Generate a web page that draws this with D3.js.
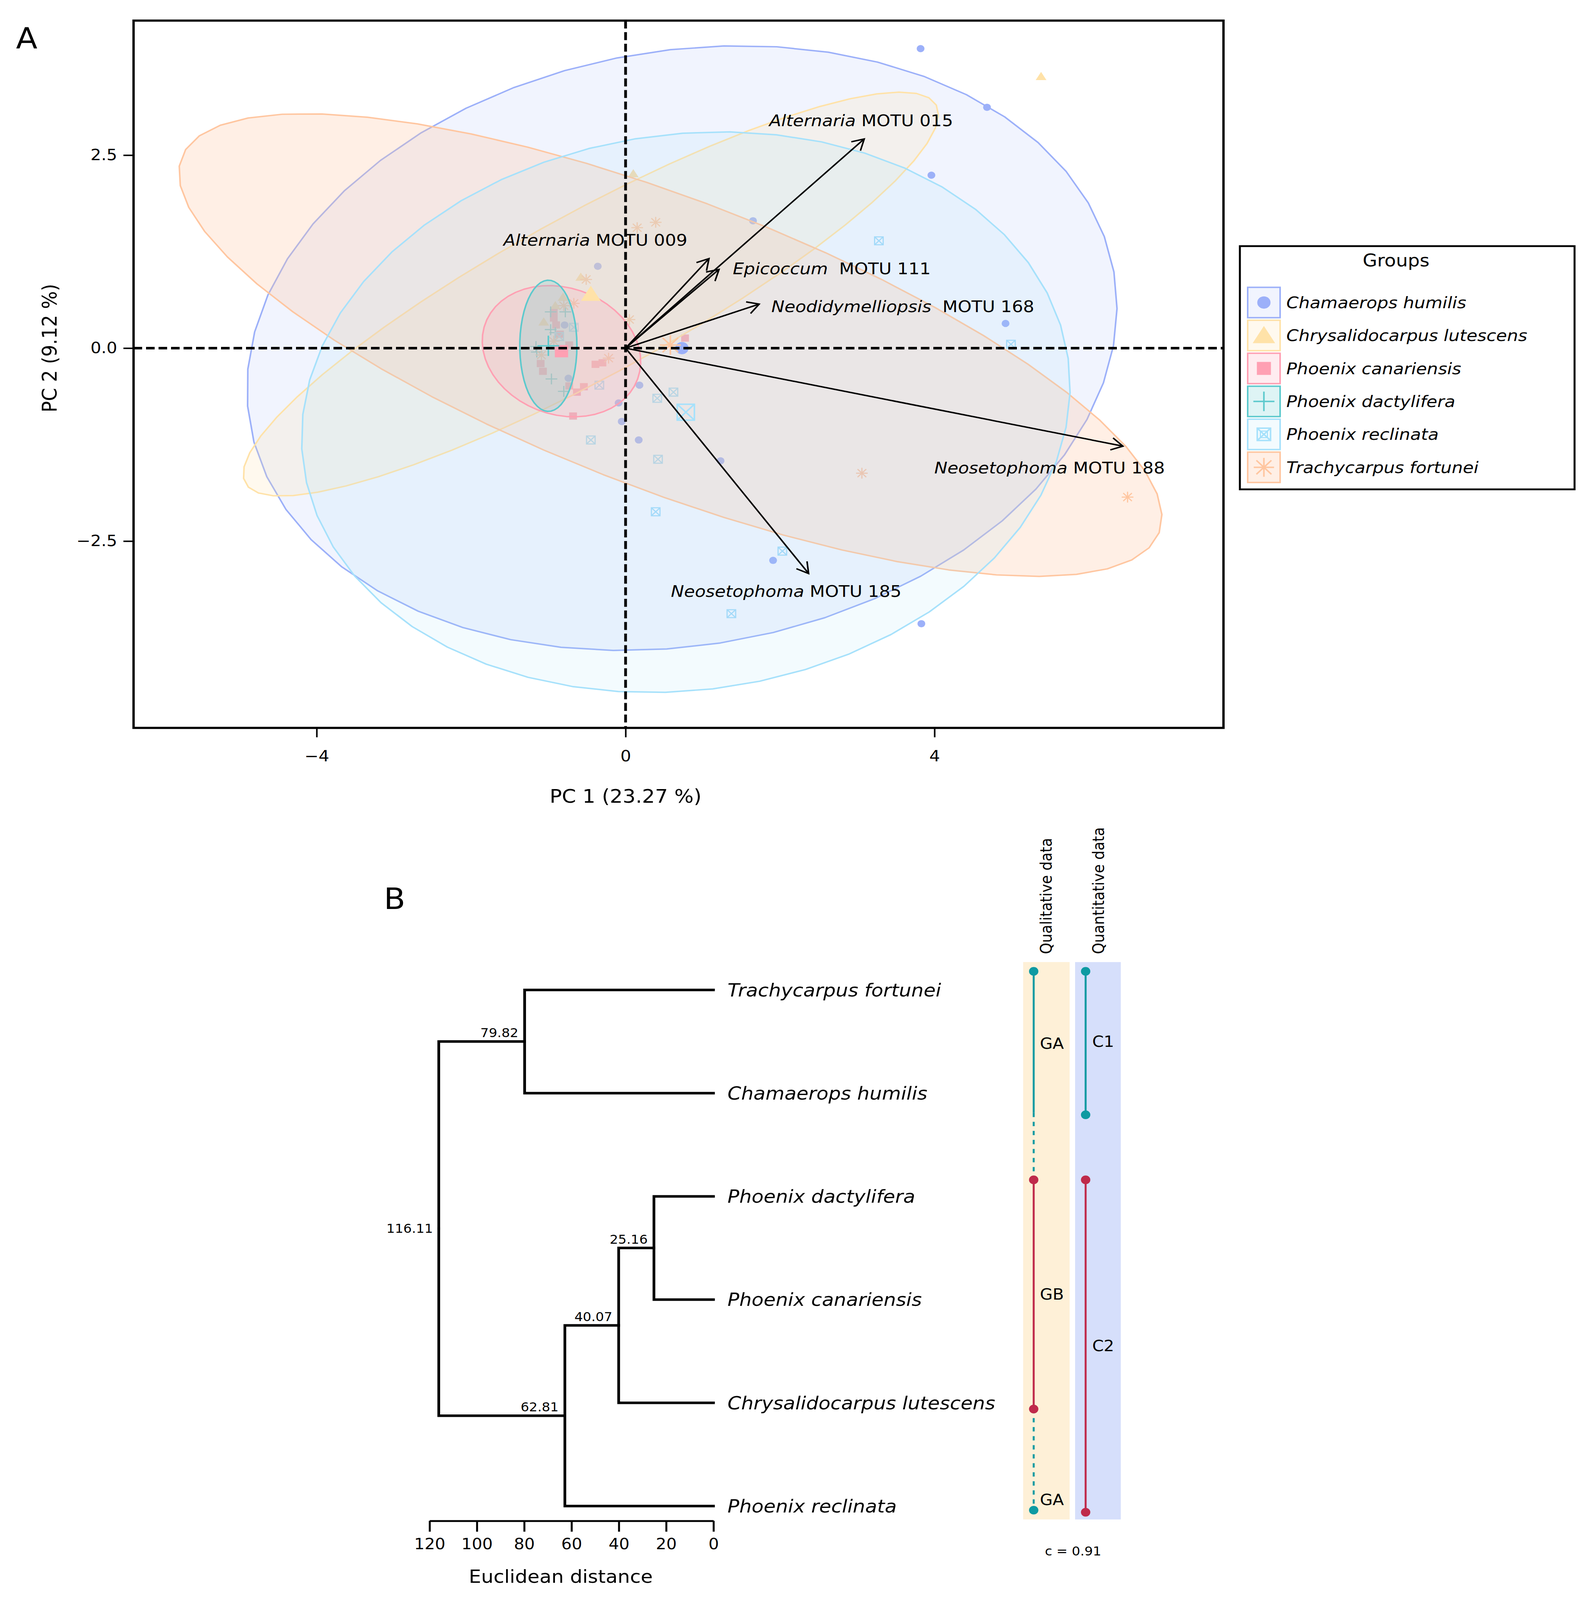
<!DOCTYPE html>
<html>
<head>
<meta charset="utf-8">
<script src="https://d3js.org/d3.v7.min.js"></script>
<style>
  html, body { margin: 0; padding: 0; background: #ffffff; overflow: hidden; }
  text { font-family: "DejaVu Sans", Verdana, sans-serif; }
</style>
</head>
<body>
<div id="figure"></div>
<script>
var svgWidth = 4069;
var svgHeight = 4427;

// ---------- Panel A : PCA biplot ----------
var groupNames = ["Chamaerops humilis", "Chrysalidocarpus lutescens", "Phoenix canariensis",
    "Phoenix dactylifera", "Phoenix reclinata", "Trachycarpus fortunei"];
var groupColors = ["#9CB0F9", "#FFE2A8", "#FFA0B3", "#5CC9CD", "#A6E1FB", "#FFC6A0"];
var groupShapes = ["circle", "triangle", "square", "plus", "squarecross", "asterisk"];
var groupFillOpacity = [0.14, 0.2, 0.2, 0.2, 0.13, 0.28];
// stacking order of the ellipses (index into the groups)
var ellipseOrder = [0, 1, 5, 4, 2, 3];

// individuals (PC1, PC2)
var chamaeropsPoints = [[3.82, 3.88], [4.68, 3.12], [3.96, 2.24], [1.65, 1.65], [4.92, 0.32], [-0.36, 1.06],
    [-0.79, 0.30], [-0.74, -0.39], [0.18, -0.48], [-0.09, -0.71], [-0.05, -0.95], [0.17, -1.19],
    [1.23, -1.46], [1.91, -2.75], [3.83, -3.57]];
var chrysalidocarpusPoints = [[5.38, 3.52], [0.10, 2.26], [-0.58, 0.92], [-0.81, 0.66], [-0.91, 0.55], [-1.06, 0.34]];
var canariensisPoints = [[0.77, 0.13], [-0.93, 0.46], [-0.93, 0.39], [-0.90, 0.30], [-0.85, 0.18], [-0.73, 0.04],
    [-1.10, -0.20], [-1.07, -0.30], [-0.39, -0.21], [-0.30, -0.19], [-0.73, -0.49], [-0.63, -0.57],
    [-0.54, -0.50], [-0.68, -0.88]];
var dactyliferaPoints = [[-0.97, 0.47], [-0.78, 0.47], [-0.97, 0.24], [-0.91, 0.20], [-1.16, 0.02],
    [-1.15, -0.05], [-0.96, -0.40], [-0.80, -0.56]];
var reclinataPoints = [[3.28, 1.39], [4.99, 0.05], [-0.34, -0.48], [0.41, -0.65], [0.62, -0.57], [-0.45, -1.19],
    [0.42, -1.44], [0.39, -2.12], [2.03, -2.63], [1.37, -3.44], [-0.67, 0.27], [-0.86, 0.15]];
var trachycarpusPoints = [[3.06, -1.62], [6.50, -1.93], [0.39, 1.63], [0.15, 1.56], [-0.51, 0.89], [-0.80, 0.55],
    [-0.67, 0.58], [0.05, 0.37], [-1.09, -0.09], [-0.22, -0.13], [-0.93, 0.09]];
var groupPoints = [chamaeropsPoints, chrysalidocarpusPoints, canariensisPoints,
    dactyliferaPoints, reclinataPoints, trachycarpusPoints];

// group means (big markers) and concentration ellipses
var groupMeanX = [0.73, -0.45, -0.83, -1.00, 0.78, 0.58];
var groupMeanY = [0.00, 0.70, -0.04, 0.03, -0.83, 0.04];
var ellipseA = [5.68, 5.10, 1.05, 0.37, 5.00, 6.78];
var ellipseB = [3.85, 1.05, 0.82, 0.85, 3.60, 1.88];
var ellipseAngle = [10, 28.7, -20, 0, 8, -21];

// variables (arrows)
var varGenus = ["Alternaria", "Alternaria", "Epicoccum", "Neodidymelliopsis", "Neosetophoma", "Neosetophoma"];
var varMotu = ["MOTU 015", "MOTU 009", " MOTU 111", " MOTU 168", "MOTU 188", "MOTU 185"];
var varX = [3.09, 1.08, 1.21, 1.73, 6.44, 2.37];
var varY = [2.71, 1.16, 1.02, 0.57, -1.27, -2.92];
var varLabelX = [3.05, -0.39, 2.67, 3.59, 5.49, 2.08];
var varLabelY = [2.95, 1.40, 1.03, 0.54, -1.55, -3.15];

var pcXTicks = [-4, 0, 4];
var pcYTicks = [-2.5, 0, 2.5];

// ---------- Panel B : dendrogram ----------
var leafNames = ["Trachycarpus fortunei", "Chamaerops humilis", "Phoenix dactylifera",
    "Phoenix canariensis", "Chrysalidocarpus lutescens", "Phoenix reclinata"];
// hclust style merges: negative = leaf, positive = earlier merge
var mergeLeft = [-3, 1, 2, -1, 4];
var mergeRight = [-4, -5, -6, -2, 3];
var mergeHeight = [25.16, 40.07, 62.81, 79.82, 116.11];
var distTicks = [120, 100, 80, 60, 40, 20, 0];

// cluster membership bars (in leaf rows, 0 = top leaf)
var qualSegStart = [-0.18, 1.84];
var qualSegEnd = [1.19, 4.06];
var qualSegGroup = ["A", "B"];
var qualLinkStart = [1.19, 4.06];
var qualLinkEnd = [1.84, 5.04];
var qualDotRow = [-0.18, 1.84, 4.06, 5.04];
var qualDotGroup = ["A", "B", "B", "A"];
var qualLabelRow = [0.52, 2.95, 4.94];
var qualLabelText = ["GA", "GB", "GA"];
var quantSegStart = [-0.18, 1.84];
var quantSegEnd = [1.21, 5.06];
var quantSegGroup = ["A", "B"];
var quantLabelRow = [0.50, 3.45];
var quantLabelText = ["C1", "C2"];
var clusterColor = {A: "#0E9AA2", B: "#BF2A4A"};

// ================= drawing =================
// the drawing is fitted to the visible window so nothing is cut off
var svg = d3.select("#figure")
    .append("svg")
    .attr("viewBox", "0 0 " + svgWidth + " " + svgHeight)
    .attr("preserveAspectRatio", "none")
    .style("width", "100vw")
    .style("height", "100vh")
    .style("display", "block");

svg.append("rect").attr("width", svgWidth).attr("height", svgHeight).attr("fill", "#ffffff");

var plotA = {left: 342, right: 3133, top: 57, bottom: 2014};

var xScale = d3.scaleLinear().domain([-6.371, 7.742]).range([plotA.left, plotA.right]);
var yScale = d3.scaleLinear().domain([-4.92, 4.243]).range([plotA.bottom, plotA.top]);

svg.append("clipPath").attr("id", "clipA")
    .append("rect")
    .attr("x", plotA.left).attr("y", plotA.top)
    .attr("width", plotA.right - plotA.left).attr("height", plotA.bottom - plotA.top);

var chartA = svg.append("g").attr("clip-path", "url(#clipA)");

function shapePath(shape, s) {
    switch (shape) {
        case "circle":
            return "M" + (-s) + ",0A" + s + "," + s + " 0 1,0 " + s + ",0A" + s + "," + s + " 0 1,0 " + (-s) + ",0Z";
        case "triangle":
            return "M0," + (-1.05 * s) + "L" + (1.15 * s) + "," + (0.85 * s) + "L" + (-1.15 * s) + "," + (0.85 * s) + "Z";
        case "square":
            return "M" + (-s) + "," + (-s) + "H" + s + "V" + s + "H" + (-s) + "Z";
        case "plus":
            return "M" + (-s) + ",0H" + s + "M0," + (-s) + "V" + s;
        case "squarecross":
            return "M" + (-s) + "," + (-s) + "H" + s + "V" + s + "H" + (-s) + "Z" +
                "M" + (-s) + "," + (-s) + "L" + s + "," + s + "M" + s + "," + (-s) + "L" + (-s) + "," + s;
        case "asterisk":
            var d = 0.74 * s;
            return "M" + (-s) + ",0H" + s + "M0," + (-s) + "V" + s +
                "M" + (-d) + "," + (-d) + "L" + d + "," + d + "M" + d + "," + (-d) + "L" + (-d) + "," + d;
    }
}
var filledShapes = {circle: true, triangle: true, square: true};

function drawSymbol(g, shape, cx, cy, s, color, sw) {
    var p = g.append("path")
        .attr("d", shapePath(shape, s))
        .attr("transform", "translate(" + cx + "," + cy + ")");
    if (filledShapes[shape]) {
        p.attr("fill", color).attr("stroke", "none");
    } else {
        p.attr("fill", "none").attr("stroke", color).attr("stroke-width", sw);
    }
    return p;
}

var smallSize = {circle: 10, triangle: 12, square: 10, plus: 15, squarecross: 11, asterisk: 15};
var meanSize = {circle: 17, triangle: 22, square: 17, plus: 28, squarecross: 22, asterisk: 27};
var keySize = {circle: 17, triangle: 25, square: 18, plus: 27, squarecross: 17, asterisk: 26};

// individuals
groupPoints.forEach(function(pts, gi) {
    var g = chartA.append("g");
    pts.forEach(function(p) {
        drawSymbol(g, groupShapes[gi], xScale(p[0]), yScale(p[1]), smallSize[groupShapes[gi]], groupColors[gi], 3);
    });
});

// ellipses
function ellipsePoints(cx, cy, a, b, deg) {
    var th = deg * Math.PI / 180;
    var pts = [];
    for (var k = 0; k < 51; k++) {
        var t = 2 * Math.PI * k / 51;
        var ex = a * Math.cos(t), ey = b * Math.sin(t);
        pts.push([xScale(cx + ex * Math.cos(th) - ey * Math.sin(th)),
                  yScale(cy + ex * Math.sin(th) + ey * Math.cos(th))]);
    }
    return pts;
}
var lineGen = d3.line();
ellipseOrder.forEach(function(gi) {
    var pts = ellipsePoints(groupMeanX[gi], groupMeanY[gi], ellipseA[gi], ellipseB[gi], ellipseAngle[gi]);
    chartA.append("path")
        .attr("d", lineGen(pts) + "Z")
        .attr("fill", groupColors[gi])
        .attr("fill-opacity", groupFillOpacity[gi])
        .attr("stroke", groupColors[gi])
        .attr("stroke-width", 4)
        .attr("stroke-linejoin", "round");
});

// group means
groupNames.forEach(function(name, gi) {
    drawSymbol(chartA, groupShapes[gi], xScale(groupMeanX[gi]), yScale(groupMeanY[gi]),
        meanSize[groupShapes[gi]], groupColors[gi], 4);
});

// reference lines
chartA.append("line")
    .attr("x1", plotA.left).attr("x2", plotA.right)
    .attr("y1", yScale(0)).attr("y2", yScale(0))
    .attr("stroke", "#000").attr("stroke-width", 7).attr("stroke-dasharray", "22,10");
chartA.append("line")
    .attr("x1", xScale(0)).attr("x2", xScale(0))
    .attr("y1", plotA.top).attr("y2", plotA.bottom)
    .attr("stroke", "#000").attr("stroke-width", 7).attr("stroke-dasharray", "22,10");

// arrows
varX.forEach(function(vx, i) {
    var x1 = xScale(0), y1 = yScale(0), x2 = xScale(vx), y2 = yScale(varY[i]);
    var ang = Math.atan2(y2 - y1, x2 - x1), len = 34, spread = Math.PI / 6;
    chartA.append("line")
        .attr("x1", x1).attr("y1", y1).attr("x2", x2).attr("y2", y2)
        .attr("stroke", "#000").attr("stroke-width", 4);
    chartA.append("path")
        .attr("d", "M" + (x2 - len * Math.cos(ang - spread)) + "," + (y2 - len * Math.sin(ang - spread)) +
            "L" + x2 + "," + y2 +
            "L" + (x2 - len * Math.cos(ang + spread)) + "," + (y2 - len * Math.sin(ang + spread)))
        .attr("fill", "none").attr("stroke", "#000").attr("stroke-width", 4)
        .attr("stroke-linejoin", "miter");
    var t = chartA.append("text")
        .attr("x", xScale(varLabelX[i]))
        .attr("y", yScale(varLabelY[i]))
        .attr("text-anchor", "middle")
        .attr("dominant-baseline", "central")
        .attr("font-size", 45)
        .style("white-space", "pre");
    t.append("tspan").attr("font-style", "italic").text(varGenus[i]);
    t.append("tspan").text(" " + varMotu[i]);
});

// frame
svg.append("rect")
    .attr("x", plotA.left).attr("y", plotA.top)
    .attr("width", plotA.right - plotA.left).attr("height", plotA.bottom - plotA.top)
    .attr("fill", "none").attr("stroke", "#000").attr("stroke-width", 6);

// axes
var xAxisA = svg.append("g")
    .attr("transform", "translate(0," + plotA.bottom + ")")
    .call(d3.axisBottom(xScale).tickValues(pcXTicks).tickSize(26).tickPadding(36).tickFormat(d3.format("d")));
xAxisA.select(".domain").remove();
xAxisA.selectAll("line").attr("stroke-width", 4);
xAxisA.attr("font-size", 43).attr("font-family", "DejaVu Sans");

var yAxisA = svg.append("g")
    .attr("transform", "translate(" + plotA.left + ",0)")
    .call(d3.axisLeft(yScale).tickValues(pcYTicks).tickSize(26).tickPadding(16).tickFormat(d3.format(".1f")));
yAxisA.select(".domain").remove();
yAxisA.selectAll("line").attr("stroke-width", 4);
yAxisA.attr("font-size", 43).attr("font-family", "DejaVu Sans");

svg.append("text")
    .attr("x", xScale(0)).attr("y", 2203)
    .attr("text-anchor", "middle").attr("dominant-baseline", "central")
    .attr("font-size", 52)
    .text("PC 1 (23.27 %)");
svg.append("text")
    .attr("transform", "translate(127," + yScale(0) + ") rotate(-90)")
    .attr("text-anchor", "middle").attr("dominant-baseline", "central")
    .attr("font-size", 52)
    .text("PC 2 (9.12 %)");

svg.append("text")
    .attr("x", 41).attr("y", 134)
    .attr("font-family", "Liberation Sans, Arial, sans-serif")
    .attr("font-size", 80)
    .text("A");

// legend
var legend = svg.append("g");
legend.append("rect")
    .attr("x", 3175).attr("y", 681).attr("width", 857).attr("height", 673)
    .attr("fill", "#fff").attr("stroke", "#000").attr("stroke-width", 5);
legend.append("text")
    .attr("x", 3575).attr("y", 737)
    .attr("text-anchor", "middle")
    .attr("font-size", 48)
    .text("Groups");
groupNames.forEach(function(name, gi) {
    var cy = 837 + gi * 91.2;
    legend.append("rect")
        .attr("x", 3195).attr("y", cy - 42).attr("width", 83).attr("height", 84)
        .attr("fill", groupColors[gi]).attr("fill-opacity", groupFillOpacity[gi])
        .attr("stroke", groupColors[gi]).attr("stroke-width", 4);
    drawSymbol(legend, groupShapes[gi], 3236.5, cy, keySize[groupShapes[gi]], groupColors[gi], 4);
    if (groupShapes[gi] === "squarecross") {
        drawSymbol(legend, "square", 3236.5, cy, 9, "none", 3).attr("fill", "none")
            .attr("stroke", groupColors[gi]).attr("stroke-width", 3);
    }
    legend.append("text")
        .attr("x", 3294).attr("y", cy)
        .attr("dominant-baseline", "central")
        .attr("font-size", 45)
        .attr("font-style", "italic")
        .text(name);
});

// ================= Panel B =================
svg.append("text")
    .attr("x", 983).attr("y", 2515)
    .attr("font-family", "Liberation Sans, Arial, sans-serif")
    .attr("font-size", 80)
    .text("B");

function buildNode(id) {
    if (id < 0) return {name: leafNames[-id - 1], height: 0};
    return {height: mergeHeight[id - 1],
        children: [buildNode(mergeLeft[id - 1]), buildNode(mergeRight[id - 1])]};
}
var treeRoot = d3.hierarchy(buildNode(mergeHeight.length));
d3.cluster().size([leafNames.length, 1]).separation(function() { return 1; })(treeRoot);

var distScale = d3.scaleLinear().domain([0, 120]).range([1827, 1100]);
var rowScale = d3.scaleLinear().domain([0, 5]).range([2739, 4167]);
function nodeY(n) { return rowScale(n.x - 0.5); }

var dendro = svg.append("g");
dendro.selectAll("path.link")
    .data(treeRoot.links())
    .enter()
    .append("path")
    .attr("d", function(l) {
        return "M" + distScale(l.source.data.height) + "," + nodeY(l.source) +
            "V" + nodeY(l.target) + "H" + distScale(l.target.data.height);
    })
    .attr("fill", "none")
    .attr("stroke", "#000")
    .attr("stroke-width", 7)
    .attr("stroke-linecap", "square");

treeRoot.descendants().filter(function(d) { return d.children; }).forEach(function(d) {
    var isRoot = !d.parent;
    dendro.append("text")
        .attr("x", distScale(d.data.height) - (isRoot ? 15 : 16))
        .attr("y", isRoot ? nodeY(d) : nodeY(d) - 12)
        .attr("text-anchor", "end")
        .attr("dominant-baseline", isRoot ? "central" : "auto")
        .attr("font-size", 34)
        .text(d.data.height.toFixed(2));
});

dendro.selectAll("text.leaf")
    .data(treeRoot.leaves())
    .enter()
    .append("text")
    .attr("x", distScale(0) + 36)
    .attr("y", function(d) { return nodeY(d); })
    .attr("dominant-baseline", "central")
    .attr("font-size", 50)
    .attr("font-style", "italic")
    .text(function(d) { return d.data.name; });

var distAxis = svg.append("g")
    .attr("transform", "translate(0,4208)")
    .call(d3.axisBottom(distScale).tickValues(distTicks).tickSizeInner(30).tickSizeOuter(0).tickPadding(19));
distAxis.select(".domain").attr("stroke-width", 5);
distAxis.selectAll("line").attr("stroke-width", 5);
distAxis.attr("font-size", 42).attr("font-family", "DejaVu Sans");

svg.append("text")
    .attr("x", 1436).attr("y", 4362)
    .attr("text-anchor", "middle").attr("dominant-baseline", "central")
    .attr("font-size", 50)
    .text("Euclidean distance");

// cluster bars
var bars = svg.append("g");
var qualX = 2647, quantX = 2780;
bars.append("rect")
    .attr("x", 2620).attr("y", rowScale(-0.27)).attr("width", 119).attr("height", rowScale(5.13) - rowScale(-0.27))
    .attr("fill", "#FEF0D7");
bars.append("rect")
    .attr("x", 2753).attr("y", rowScale(-0.27)).attr("width", 117).attr("height", rowScale(5.13) - rowScale(-0.27))
    .attr("fill", "#D6DFFB");

qualSegStart.forEach(function(s, i) {
    bars.append("line")
        .attr("x1", qualX).attr("x2", qualX)
        .attr("y1", rowScale(s)).attr("y2", rowScale(qualSegEnd[i]))
        .attr("stroke", clusterColor[qualSegGroup[i]]).attr("stroke-width", 5);
});
qualLinkStart.forEach(function(s, i) {
    bars.append("line")
        .attr("x1", qualX).attr("x2", qualX)
        .attr("y1", rowScale(s)).attr("y2", rowScale(qualLinkEnd[i]))
        .attr("stroke", clusterColor.A).attr("stroke-width", 5)
        .attr("stroke-dasharray", "12,13");
});
qualDotRow.forEach(function(r, i) {
    bars.append("circle")
        .attr("cx", qualX).attr("cy", rowScale(r)).attr("r", 12)
        .attr("fill", clusterColor[qualDotGroup[i]]);
});
quantSegStart.forEach(function(s, i) {
    bars.append("line")
        .attr("x1", quantX).attr("x2", quantX)
        .attr("y1", rowScale(s)).attr("y2", rowScale(quantSegEnd[i]))
        .attr("stroke", clusterColor[quantSegGroup[i]]).attr("stroke-width", 5);
    [s, quantSegEnd[i]].forEach(function(r) {
        bars.append("circle")
            .attr("cx", quantX).attr("cy", rowScale(r)).attr("r", 12)
            .attr("fill", clusterColor[quantSegGroup[i]]);
    });
});
qualLabelRow.forEach(function(r, i) {
    bars.append("text")
        .attr("x", 2663).attr("y", rowScale(r))
        .attr("dominant-baseline", "central")
        .attr("font-size", 42)
        .text(qualLabelText[i]);
});
quantLabelRow.forEach(function(r, i) {
    bars.append("text")
        .attr("x", 2797).attr("y", rowScale(r))
        .attr("dominant-baseline", "central")
        .attr("font-size", 42)
        .text(quantLabelText[i]);
});

bars.append("text")
    .attr("transform", "translate(2679,2640) rotate(-90)")
    .attr("dominant-baseline", "central")
    .attr("font-size", 40)
    .text("Qualitative data");
bars.append("text")
    .attr("transform", "translate(2813,2640) rotate(-90)")
    .attr("dominant-baseline", "central")
    .attr("font-size", 40)
    .text("Quantitative data");

bars.append("text")
    .attr("x", 2748).attr("y", 4292)
    .attr("text-anchor", "middle").attr("dominant-baseline", "central")
    .attr("font-size", 34)
    .text("c = 0.91");
</script>
</body>
</html>
